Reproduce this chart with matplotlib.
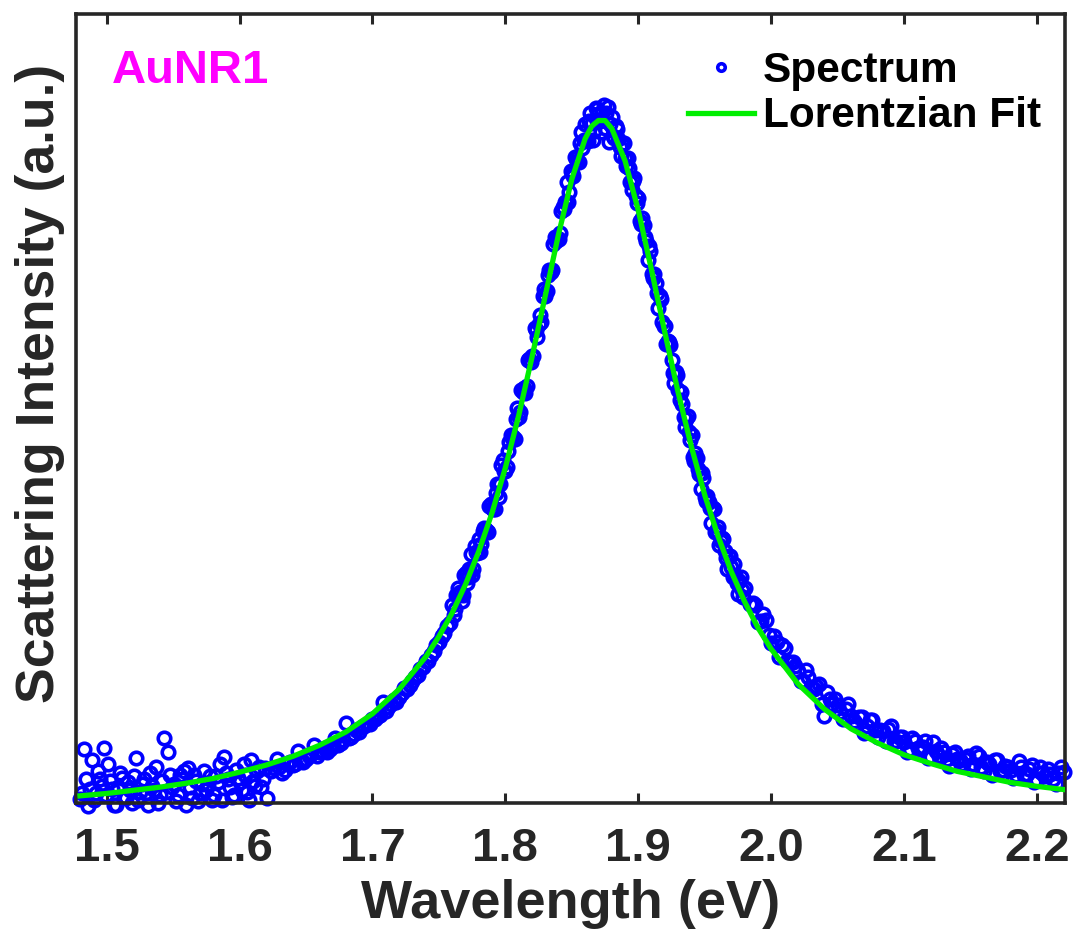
import matplotlib
matplotlib.use("Agg")
import matplotlib.pyplot as plt

# Lorentzian fit curve (eV, a.u.)
fit_x = [1.480, 1.500, 1.520, 1.540, 1.560, 1.580, 1.600, 1.620, 1.640, 1.660,
         1.680, 1.700, 1.720, 1.740, 1.750, 1.760, 1.770, 1.780, 1.790, 1.800,
         1.810, 1.820, 1.830, 1.840, 1.850, 1.860, 1.865, 1.870, 1.875, 1.880,
         1.890, 1.900, 1.910, 1.920, 1.930, 1.940, 1.950, 1.960, 1.970, 1.980,
         1.990, 2.000, 2.020, 2.040, 2.060, 2.080, 2.100, 2.120, 2.140, 2.160,
         2.180, 2.200, 2.220]
fit_y = [0.009, 0.012, 0.016, 0.020, 0.025, 0.031, 0.039, 0.048, 0.059, 0.073,
         0.090, 0.113, 0.144, 0.185, 0.211, 0.241, 0.277, 0.319, 0.368, 0.425,
         0.491, 0.565, 0.643, 0.721, 0.791, 0.842, 0.858, 0.865, 0.865, 0.855,
         0.814, 0.751, 0.675, 0.596, 0.520, 0.451, 0.390, 0.338, 0.293, 0.255,
         0.222, 0.195, 0.151, 0.119, 0.094, 0.076, 0.061, 0.050, 0.040, 0.033,
         0.026, 0.021, 0.017]

# measured spectrum, first set of samples
tail_lo_x = [1.480, 1.483, 1.486, 1.489, 1.492, 1.495, 1.498, 1.501, 1.504, 1.507,
             1.510, 1.513, 1.516, 1.519, 1.522, 1.525, 1.528, 1.531, 1.534, 1.537,
             1.540, 1.543, 1.546, 1.549, 1.552, 1.555, 1.558, 1.561, 1.564, 1.567,
             1.570, 1.573, 1.576, 1.579, 1.582, 1.585, 1.588, 1.591, 1.594, 1.597,
             1.600, 1.603, 1.606, 1.609, 1.612, 1.615, 1.618, 1.621,
             1.624, 1.628, 1.632, 1.636, 1.640, 1.644, 1.648, 1.652, 1.656, 1.660,
             1.664, 1.668, 1.672, 1.676, 1.680, 1.684, 1.688, 1.692, 1.696, 1.700,
             1.704, 1.708, 1.712, 1.716, 1.720, 1.724, 1.728, 1.732, 1.736, 1.740,
             1.744, 1.748, 1.752, 1.756]
tail_lo_y = [0.005, 0.068, -0.004, 0.054, 0.012, 0.030, 0.070, 0.050, 0.018, -0.003,
             0.038, 0.008, 0.026, 0.000, 0.057, 0.014, 0.030, -0.002, 0.022, 0.045,
             0.010, 0.082, 0.065, 0.020, 0.002, 0.036, 0.040, 0.044, 0.006, 0.028,
             0.012, 0.040, 0.024, 0.004, 0.034, 0.050, 0.058, 0.030, 0.008, 0.042,
             0.026, 0.050, 0.014, 0.054, 0.022, 0.046, 0.030, 0.006,
             0.040, 0.056, 0.038, 0.050, 0.048, 0.066, 0.052, 0.060, 0.074, 0.064,
             0.070, 0.068, 0.082, 0.076, 0.101, 0.084, 0.092, 0.096, 0.100, 0.106,
             0.110, 0.128, 0.122, 0.130, 0.134, 0.146, 0.150, 0.160, 0.170, 0.180,
             0.188, 0.200, 0.212, 0.224]

peak_x = [1.760, 1.762, 1.764, 1.766, 1.768, 1.770, 1.772, 1.774, 1.776, 1.778,
          1.780, 1.782, 1.784, 1.786, 1.788, 1.790, 1.792, 1.794, 1.796, 1.798,
          1.800, 1.802, 1.804, 1.806, 1.808, 1.810, 1.812, 1.814, 1.816, 1.818,
          1.820, 1.822, 1.824, 1.826, 1.828, 1.830, 1.832, 1.834, 1.836, 1.838,
          1.840, 1.842, 1.844, 1.846, 1.848, 1.850, 1.852, 1.854, 1.856, 1.858,
          1.860, 1.862, 1.864, 1.866, 1.868, 1.870, 1.872, 1.874, 1.876, 1.878,
          1.880, 1.882, 1.884, 1.886, 1.888, 1.890, 1.892, 1.894, 1.896, 1.898,
          1.900, 1.902, 1.904, 1.906, 1.908, 1.910, 1.912, 1.914, 1.916, 1.918,
          1.920, 1.922, 1.924, 1.926, 1.928, 1.930, 1.932, 1.934, 1.936, 1.938,
          1.940, 1.942, 1.944, 1.946, 1.948, 1.950, 1.952, 1.954, 1.956, 1.958,
          1.960, 1.962, 1.964, 1.966, 1.968, 1.970, 1.972, 1.974, 1.976, 1.978,
          1.980]
peak_y = [0.251, 0.246, 0.273, 0.268, 0.263, 0.291, 0.287, 0.315, 0.297, 0.318,
          0.335, 0.328, 0.348, 0.345, 0.376, 0.374, 0.373, 0.404, 0.404, 0.435,
          0.421, 0.446, 0.467, 0.464, 0.487, 0.489, 0.523, 0.526, 0.528, 0.563,
          0.566, 0.602, 0.591, 0.619, 0.643, 0.643, 0.669, 0.673, 0.708, 0.712,
          0.715, 0.750, 0.753, 0.787, 0.774, 0.799, 0.819, 0.814, 0.837, 0.830,
          0.860, 0.839, 0.875, 0.840, 0.881, 0.873, 0.850, 0.885, 0.875, 0.838,
          0.869, 0.843, 0.854, 0.832, 0.835, 0.818, 0.817, 0.787, 0.788, 0.769,
          0.767, 0.734, 0.733, 0.712, 0.706, 0.671, 0.671, 0.647, 0.643, 0.609,
          0.605, 0.586, 0.580, 0.545, 0.546, 0.524, 0.521, 0.489, 0.487, 0.470,
          0.467, 0.434, 0.437, 0.417, 0.418, 0.388, 0.389, 0.374, 0.374, 0.343,
          0.350, 0.332, 0.335, 0.310, 0.313, 0.299, 0.303, 0.279, 0.281, 0.270,
          0.273]

tail_hi_x = [1.984, 1.988, 1.992, 1.996, 2.000, 2.004, 2.008, 2.012, 2.016, 2.020,
             2.024, 2.028, 2.032, 2.036, 2.040, 2.044, 2.048, 2.052, 2.056, 2.060,
             2.064, 2.068, 2.072, 2.076, 2.080, 2.084, 2.088, 2.092, 2.096, 2.100,
             2.104, 2.108, 2.112, 2.116, 2.120, 2.124, 2.128, 2.132, 2.136, 2.140,
             2.144, 2.148, 2.152, 2.156, 2.160, 2.164, 2.168, 2.172, 2.176, 2.180,
             2.184, 2.188, 2.192, 2.196, 2.200, 2.204, 2.208, 2.212, 2.216, 2.220]
tail_hi_y = [0.252, 0.251, 0.231, 0.232, 0.203, 0.204, 0.200, 0.180, 0.179, 0.167,
             0.154, 0.160, 0.145, 0.151, 0.110, 0.132, 0.132, 0.115, 0.119, 0.110,
             0.100, 0.109, 0.097, 0.105, 0.084, 0.091, 0.094, 0.079, 0.084, 0.077,
             0.069, 0.079, 0.068, 0.078, 0.058, 0.066, 0.070, 0.056, 0.062, 0.056,
             0.049, 0.059, 0.050, 0.060, 0.041, 0.049, 0.054, 0.041, 0.047, 0.042,
             0.035, 0.046, 0.037, 0.048, 0.029, 0.038, 0.043, 0.030, 0.038, 0.039]

# measured spectrum, interleaved second set of samples
tail_lo2_x = [1.4815, 1.4845, 1.4875, 1.4905, 1.4935, 1.4965, 1.4995, 1.5025, 1.5055, 1.5085,
              1.5115, 1.5145, 1.5175, 1.5205, 1.5235, 1.5265, 1.5295, 1.5325, 1.5355, 1.5385,
              1.5415, 1.5445, 1.5475, 1.5505, 1.5535, 1.5565, 1.5595, 1.5625, 1.5655, 1.5685,
              1.5715, 1.5745, 1.5775, 1.5805, 1.5835, 1.5865, 1.5895, 1.5925, 1.5955, 1.5985,
              1.6015, 1.6045, 1.6075, 1.6105, 1.6135, 1.6165, 1.6195,
              1.626, 1.630, 1.634, 1.638, 1.642, 1.646, 1.650, 1.654, 1.658, 1.662,
              1.666, 1.670, 1.674, 1.678, 1.682, 1.686, 1.690, 1.694, 1.698, 1.702,
              1.706, 1.710, 1.714, 1.718, 1.722, 1.726, 1.730, 1.734, 1.738, 1.742,
              1.746, 1.750, 1.754, 1.758]
tail_lo2_y = [0.012, 0.030, 0.018, 0.004, 0.040, 0.022, 0.010, 0.028, -0.002, 0.020,
              0.032, 0.006, 0.016, 0.034, 0.004, 0.024, 0.012, 0.038, 0.016, 0.000,
              0.028, 0.014, 0.036, 0.024, 0.010, 0.030, -0.002, 0.020, 0.036, 0.002,
              0.024, 0.016, 0.034, 0.010, 0.026, 0.004, 0.038, 0.020, 0.010, 0.032,
              0.016, 0.036, 0.004, 0.028, 0.040, 0.020, 0.044,
              0.044, 0.046, 0.042, 0.052, 0.050, 0.054, 0.056, 0.062, 0.060, 0.066,
              0.064, 0.072, 0.074, 0.080, 0.082, 0.088, 0.090, 0.098, 0.100, 0.106,
              0.112, 0.116, 0.126, 0.128, 0.140, 0.144, 0.154, 0.162, 0.172, 0.180,
              0.192, 0.204, 0.216, 0.228]

peak2_x = [1.761, 1.763, 1.765, 1.767, 1.769, 1.771, 1.773, 1.775, 1.777, 1.779,
           1.781, 1.783, 1.785, 1.787, 1.789, 1.791, 1.793, 1.795, 1.797, 1.799,
           1.801, 1.803, 1.805, 1.807, 1.809, 1.811, 1.813, 1.815, 1.817, 1.819,
           1.821, 1.823, 1.825, 1.827, 1.829, 1.831, 1.833, 1.835, 1.837, 1.839,
           1.841, 1.843, 1.845, 1.847, 1.849, 1.851, 1.853, 1.855, 1.857, 1.859,
           1.861, 1.863, 1.865, 1.867, 1.869, 1.871, 1.873, 1.875, 1.877, 1.879,
           1.881, 1.883, 1.885, 1.887, 1.889, 1.891, 1.893, 1.895, 1.897, 1.899,
           1.901, 1.903, 1.905, 1.907, 1.909, 1.911, 1.913, 1.915, 1.917, 1.919,
           1.921, 1.923, 1.925, 1.927, 1.929, 1.931, 1.933, 1.935, 1.937, 1.939,
           1.941, 1.943, 1.945, 1.947, 1.949, 1.951, 1.953, 1.955, 1.957, 1.959,
           1.961, 1.963, 1.965, 1.967, 1.969, 1.971, 1.973, 1.975, 1.977, 1.979]
peak2_y = [0.238, 0.264, 0.263, 0.256, 0.289, 0.279, 0.297, 0.289, 0.326, 0.317,
           0.318, 0.345, 0.347, 0.343, 0.379, 0.372, 0.393, 0.388, 0.428, 0.421,
           0.426, 0.457, 0.462, 0.461, 0.500, 0.496, 0.521, 0.519, 0.562, 0.559,
           0.566, 0.600, 0.607, 0.609, 0.651, 0.649, 0.675, 0.675, 0.718, 0.716,
           0.723, 0.756, 0.762, 0.762, 0.801, 0.795, 0.817, 0.812, 0.850, 0.840,
           0.840, 0.864, 0.862, 0.852, 0.880, 0.864, 0.874, 0.856, 0.882, 0.860,
           0.846, 0.858, 0.842, 0.820, 0.836, 0.807, 0.805, 0.777, 0.792, 0.760,
           0.738, 0.741, 0.718, 0.688, 0.699, 0.665, 0.659, 0.627, 0.639, 0.605,
           0.582, 0.584, 0.561, 0.532, 0.543, 0.511, 0.506, 0.476, 0.491, 0.460,
           0.439, 0.444, 0.423, 0.398, 0.412, 0.383, 0.382, 0.355, 0.373, 0.345,
           0.327, 0.336, 0.319, 0.296, 0.313, 0.287, 0.289, 0.265, 0.286, 0.261]

tail_hi2_x = [1.986, 1.990, 1.994, 1.998, 2.002, 2.006, 2.010, 2.014, 2.018, 2.022,
              2.026, 2.030, 2.034, 2.038, 2.042, 2.046, 2.050, 2.054, 2.058, 2.062,
              2.066, 2.070, 2.074, 2.078, 2.082, 2.086, 2.090, 2.094, 2.098, 2.102,
              2.106, 2.110, 2.114, 2.118, 2.122, 2.126, 2.130, 2.134, 2.138, 2.142,
              2.146, 2.150, 2.154, 2.158, 2.162, 2.166, 2.170, 2.174, 2.178, 2.182,
              2.186, 2.190, 2.194, 2.198, 2.202, 2.206, 2.210, 2.214, 2.218]
tail_hi2_y = [0.254, 0.229, 0.240, 0.213, 0.211, 0.185, 0.196, 0.178, 0.173, 0.154,
              0.169, 0.147, 0.148, 0.126, 0.141, 0.125, 0.124, 0.107, 0.125, 0.104,
              0.109, 0.089, 0.105, 0.092, 0.093, 0.078, 0.097, 0.078, 0.083, 0.064,
              0.082, 0.070, 0.071, 0.057, 0.077, 0.059, 0.065, 0.047, 0.065, 0.054,
              0.056, 0.043, 0.063, 0.046, 0.052, 0.035, 0.054, 0.042, 0.045, 0.032,
              0.053, 0.036, 0.043, 0.026, 0.045, 0.034, 0.037, 0.024, 0.046]

xticks = [1.5, 1.6, 1.7, 1.8, 1.9, 2.0, 2.1, 2.2]
xtick_labels = ["1.5", "1.6", "1.7", "1.8", "1.9", "2.0", "2.1", "2.2"]

spec_x = tail_lo_x + tail_lo2_x + peak_x + peak2_x + tail_hi_x + tail_hi2_x
spec_y = tail_lo_y + tail_lo2_y + peak_y + peak2_y + tail_hi_y + tail_hi2_y

plt.rcParams["font.family"] = ["Liberation Sans", "DejaVu Sans"]
plt.rcParams["font.weight"] = "bold"

fig = plt.figure(figsize=(10.78, 9.41), dpi=100)
ax = fig.add_axes([0.0705, 0.1467, 0.9175, 0.8384])

ax.plot(spec_x, spec_y, "o", mfc="none", mec="#0000ff", ms=9, mew=2.6,
        label="Spectrum", clip_on=False, zorder=2)
ax.plot(fit_x, fit_y, "-", color="#00ee00", lw=3.8, label="Lorentzian Fit", zorder=3)

ax.set_xlim(1.477, 2.221)
ax.set_ylim(0, 1)
ax.set_xticks(xticks)
ax.set_xticklabels(xtick_labels)
ax.set_yticks([])
ax.tick_params(axis="x", direction="in", top=True, length=7, width=2.2,
               labelsize=34, pad=17, colors="#262626")
for s in ax.spines.values():
    s.set_linewidth(2.6)
    s.set_color("#262626")

ax.set_xlabel("Wavelength (eV)", fontsize=39, fontweight="bold", color="#262626", labelpad=6)
ax.set_ylabel("Scattering Intensity (a.u.)", fontsize=38.5, fontweight="bold",
              color="#262626")
ax.yaxis.set_label_coords(-0.011, 0.532)

ax.text(0.036, 0.9125, "AuNR1", transform=ax.transAxes, color="#ff00ff",
        fontsize=34, fontweight="bold", va="baseline")

leg = ax.legend(loc="upper right", bbox_to_anchor=(1.001, 0.985), frameon=False,
                fontsize=30.5, handlelength=1.55, handletextpad=0.2, labelspacing=0.12,
                markerscale=0.6, borderaxespad=0.2)

fig.savefig("out.png", dpi=100)
